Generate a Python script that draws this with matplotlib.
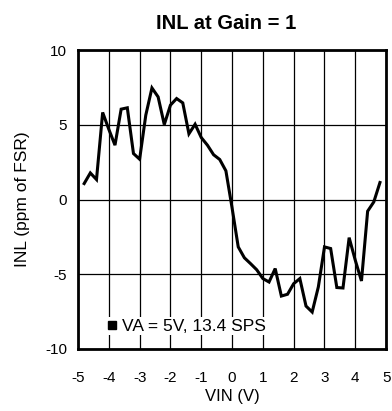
import matplotlib
matplotlib.use("Agg")
import matplotlib.pyplot as plt
from matplotlib.lines import Line2D

# --- Data ---
vin = [-4.8, -4.6, -4.4, -4.2, -4.0, -3.8, -3.6, -3.4, -3.2, -3.0,
       -2.8, -2.6, -2.4, -2.2, -2.0, -1.8, -1.6, -1.4, -1.2, -1.0,
       -0.8, -0.6, -0.4, -0.2, 0.0, 0.2, 0.4, 0.6, 0.8, 1.0,
       1.2, 1.4, 1.6, 1.8, 2.0, 2.2, 2.4, 2.6, 2.8, 3.0,
       3.2, 3.4, 3.6, 3.8, 4.0, 4.2, 4.4, 4.6, 4.8]
inl = [1.07, 1.78, 1.34, 5.83, 4.70, 3.64, 6.05, 6.14, 3.08, 2.70,
       5.65, 7.47, 6.87, 5.02, 6.32, 6.76, 6.47, 4.40, 5.04, 4.15,
       3.64, 3.00, 2.68, 1.92, -0.55, -3.17, -3.90, -4.29, -4.70, -5.29,
       -5.52, -4.62, -6.46, -6.34, -5.63, -5.29, -7.13, -7.53, -5.85, -3.17,
       -3.28, -5.89, -5.92, -2.55, -4.07, -5.45, -0.78, -0.16, 1.14]

x_ticks = [-5, -4, -3, -2, -1, 0, 1, 2, 3, 4, 5]
y_ticks = [-10, -5, 0, 5, 10]
legend_label = "VA = 5V, 13.4 SPS"

plt.rcParams['font.family'] = ['Liberation Sans', 'DejaVu Sans']

fig = plt.figure(figsize=(3.92, 4.11), dpi=100)
ax = fig.add_axes([0.199, 0.151, 0.786, 0.727])

ax.plot(vin, inl, color='black', lw=2.2, solid_joinstyle='miter')

ax.set_xlim(-5, 5)
ax.set_ylim(-10, 10)
ax.set_xticks(x_ticks)
ax.set_yticks(y_ticks)
ax.set_xticklabels([str(t) for t in x_ticks])
ax.set_yticklabels([str(t) for t in y_ticks])
ax.grid(True, color='black', lw=0.9)
ax.set_axisbelow(True)
ax.tick_params(length=0, labelsize=11, pad=16, axis='x')
ax.tick_params(length=0, labelsize=11, pad=8, axis='y')
for s in ax.spines.values():
    s.set_linewidth(2)

ax.set_xlabel("VIN (V)", fontsize=12, labelpad=3)
ax.set_ylabel("INL (ppm of FSR)", fontsize=12.5, labelpad=11)
ax.set_title("INL at Gain = 1", fontsize=14.5, fontweight='bold', pad=15, x=0.48)

handle = Line2D([], [], marker='s', color='black', ls='none', markersize=5.5)
leg = ax.legend([handle], [legend_label], loc='lower left',
                bbox_to_anchor=(0.09, 0.045), fontsize=12.5, frameon=True,
                fancybox=False, handlelength=0.5, handletextpad=0.35,
                borderpad=0.1, borderaxespad=0)
leg.get_frame().set_edgecolor('none')
leg.get_frame().set_facecolor('white')
leg.get_frame().set_alpha(1)

fig.savefig("out.png", dpi=100)
